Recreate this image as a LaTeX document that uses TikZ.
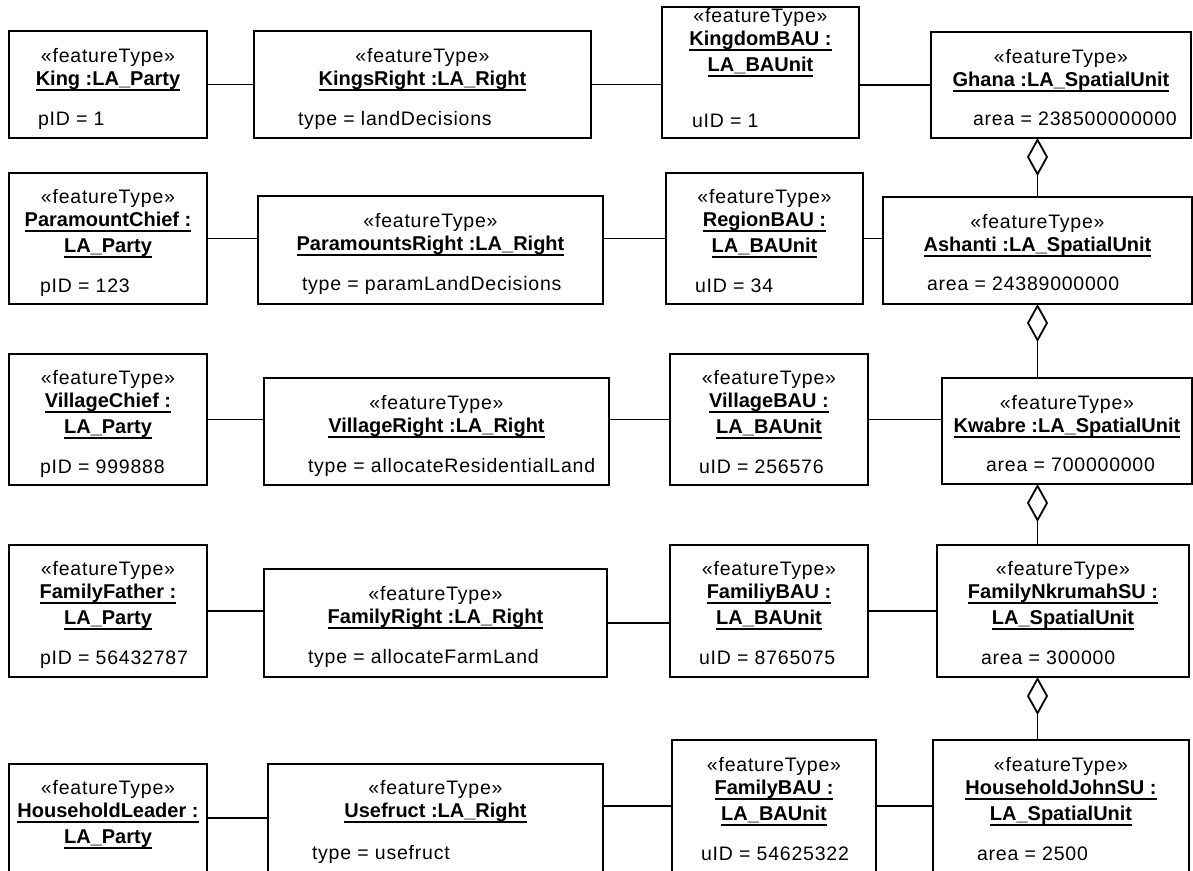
\documentclass[tikz,border=0pt]{standalone}
\usepackage{fontspec}
\setmainfont{Liberation Sans}
\newfontfamily\spacedsans[LetterSpace=4]{Liberation Sans}
\usetikzlibrary{arrows.meta}

% bold, underlined instance name
\newcommand\objname[1]{\setbox0\hbox{\normalfont\bfseries\fontsize{20}{23}\selectfont #1}%
  \rlap{\rule[-5.5pt]{\wd0}{2pt}}\box0}

\begin{document}
\begin{tikzpicture}[
  x = 1pt, y = -1pt,
  every node/.style = {inner sep=0pt, outer sep=0pt},
  obj/.style = {draw, line width=2pt, anchor=north west},
  hdr/.style = {anchor=north, align=center, font=\spacedsans\fontsize{19.5}{23}\selectfont},
  attr/.style = {anchor=base west, font=\spacedsans\fontsize{19.5}{23}\selectfont},
  link/.style = {draw, line width=1.8pt},
  agg/.style = {link, -{Diamond[open, length=38pt, width=21pt]}},
]
\useasboundingbox (0,0) rectangle (1193,870);
\clip (0,0) rectangle (1193,870);

% row 1
\node[obj, minimum width=198, minimum height=107] (king) at (9,31) {};
\node[hdr] (kingH) at ([yshift=-17]king.north) {«featureType»\\\objname{King :LA\_Party}};
\node[attr] (kingA) at ([xshift=29, yshift=-94]king.north west) {pID = 1};

\node[obj, minimum width=337, minimum height=107] (kingsright) at (254,31) {};
\node[hdr] (kingsrightH) at ([yshift=-17]kingsright.north) {«featureType»\\\objname{KingsRight :LA\_Right}};
\node[attr] (kingsrightA) at ([xshift=44, yshift=-94]kingsright.north west) {type = landDecisions};

\node[obj, minimum width=197, minimum height=131] (kingdom) at (662,7) {};
\node[hdr] (kingdomH) at ([yshift=-1]kingdom.north) {«featureType»\\\objname{KingdomBAU :}\\[3pt]\objname{LA\_BAUnit}};
\node[attr] (kingdomA) at ([xshift=30, yshift=-120]kingdom.north west) {uID = 1};

\node[obj, minimum width=260, minimum height=106] (ghana) at (931,32) {};
\node[hdr] (ghanaH) at ([yshift=-17]ghana.north) {«featureType»\\\objname{Ghana :LA\_SpatialUnit}};
\node[attr] (ghanaA) at ([xshift=42, yshift=-93]ghana.north west) {area = 238500000000};

% row 2
\node[obj, minimum width=198, minimum height=131] (pchief) at (9,173) {};
\node[hdr] (pchiefH) at ([yshift=-16]pchief.north) {«featureType»\\\objname{ParamountChief :}\\[3pt]\objname{LA\_Party}};
\node[attr] (pchiefA) at ([xshift=31, yshift=-119]pchief.north west) {pID = 123};

\node[obj, minimum width=345, minimum height=108] (pright) at (258,196) {};
\node[hdr] (prightH) at ([yshift=-17]pright.north) {«featureType»\\\objname{ParamountsRight :LA\_Right}};
\node[attr] (prightA) at ([xshift=44, yshift=-94]pright.north west) {type = paramLandDecisions};

\node[obj, minimum width=197, minimum height=131] (regionbau) at (666,173) {};
\node[hdr] (regionbauH) at ([yshift=-16]regionbau.north) {«featureType»\\\objname{RegionBAU :}\\[3pt]\objname{LA\_BAUnit}};
\node[attr] (regionbauA) at ([xshift=29, yshift=-119]regionbau.north west) {uID = 34};

\node[obj, minimum width=309, minimum height=107] (ashanti) at (883,197) {};
\node[hdr] (ashantiH) at ([yshift=-17]ashanti.north) {«featureType»\\\objname{Ashanti :LA\_SpatialUnit}};
\node[attr] (ashantiA) at ([xshift=44, yshift=-93]ashanti.north west) {area = 24389000000};

% row 3
\node[obj, minimum width=198, minimum height=131] (vchief) at (9,354) {};
\node[hdr] (vchiefH) at ([yshift=-16]vchief.north) {«featureType»\\\objname{VillageChief :}\\[3pt]\objname{LA\_Party}};
\node[attr] (vchiefA) at ([xshift=31, yshift=-119]vchief.north west) {pID = 999888};

\node[obj, minimum width=345, minimum height=107] (vright) at (264,378) {};
\node[hdr] (vrightH) at ([yshift=-17]vright.north) {«featureType»\\\objname{VillageRight :LA\_Right}};
\node[attr] (vrightA) at ([xshift=44, yshift=-94]vright.north west) {type = allocateResidentialLand};

\node[obj, minimum width=198, minimum height=131] (vbau) at (670,354) {};
\node[hdr] (vbauH) at ([yshift=-16]vbau.north) {«featureType»\\\objname{VillageBAU :}\\[3pt]\objname{LA\_BAUnit}};
\node[attr] (vbauA) at ([xshift=29, yshift=-119]vbau.north west) {uID = 256576};

\node[obj, minimum width=250, minimum height=106] (kwabre) at (942,378) {};
\node[hdr] (kwabreH) at ([yshift=-17]kwabre.north) {«featureType»\\\objname{Kwabre :LA\_SpatialUnit}};
\node[attr] (kwabreA) at ([xshift=44, yshift=-93]kwabre.north west) {area = 700000000};

% row 4
\node[obj, minimum width=198, minimum height=132] (ffather) at (9,545) {};
\node[hdr] (ffatherH) at ([yshift=-16]ffather.north) {«featureType»\\\objname{FamilyFather :}\\[3pt]\objname{LA\_Party}};
\node[attr] (ffatherA) at ([xshift=31, yshift=-119]ffather.north west) {pID = 56432787};

\node[obj, minimum width=343, minimum height=108] (fright) at (264,569) {};
\node[hdr] (frightH) at ([yshift=-17]fright.north) {«featureType»\\\objname{FamilyRight :LA\_Right}};
\node[attr] (frightA) at ([xshift=44, yshift=-94]fright.north west) {type = allocateFarmLand};

\node[obj, minimum width=198, minimum height=132] (fbau) at (670,545) {};
\node[hdr] (fbauH) at ([yshift=-16]fbau.north) {«featureType»\\\objname{FamiliyBAU :}\\[3pt]\objname{LA\_BAUnit}};
\node[attr] (fbauA) at ([xshift=29, yshift=-119]fbau.north west) {uID = 8765075};

\node[obj, minimum width=252, minimum height=132] (nkrumah) at (937,545) {};
\node[hdr] (nkrumahH) at ([yshift=-16]nkrumah.north) {«featureType»\\\objname{FamilyNkrumahSU :}\\[3pt]\objname{LA\_SpatialUnit}};
\node[attr] (nkrumahA) at ([xshift=44, yshift=-119]nkrumah.north west) {area = 300000};

% row 5
\node[obj, minimum width=198, minimum height=108] (hleader) at (9,764) {};
\node[hdr] (hleaderH) at ([yshift=-16]hleader.north) {«featureType»\\\objname{HouseholdLeader :}\\[3pt]\objname{LA\_Party}};

\node[obj, minimum width=335, minimum height=108] (usefruct) at (268,764) {};
\node[hdr] (usefructH) at ([yshift=-16]usefruct.north) {«featureType»\\\objname{Usefruct :LA\_Right}};
\node[attr] (usefructA) at ([xshift=44, yshift=-95]usefruct.north west) {type = usefruct};

\node[obj, minimum width=204, minimum height=132] (hbau) at (672,740) {};
\node[hdr] (hbauH) at ([yshift=-17]hbau.north) {«featureType»\\\objname{FamilyBAU :}\\[3pt]\objname{LA\_BAUnit}};
\node[attr] (hbauA) at ([xshift=29, yshift=-120]hbau.north west) {uID = 54625322};

\node[obj, minimum width=256, minimum height=132] (john) at (933,740) {};
\node[hdr] (johnH) at ([yshift=-17]john.north) {«featureType»\\\objname{HouseholdJohnSU :}\\[3pt]\objname{LA\_SpatialUnit}};
\node[attr] (johnA) at ([xshift=44, yshift=-120]john.north west) {area = 2500};

% associations
\foreach \a/\b in {king/kingsright, kingsright/kingdom, pchief/pright, regionbau/ashanti,
                   vchief/vright, vbau/kwabre, ffather/fright, fright/fbau, fbau/nkrumah,
                   hleader/usefruct, hbau/john}
  \draw[link] (\a.east) -- (\a.east -| \b.west);
\foreach \a/\b in {kingdom/ghana, pright/regionbau, vright/vbau, usefruct/hbau}
  \draw[link] (\a.east |- \b.west) -- (\b.west);

% aggregations
\foreach \c/\p in {ashanti/ghana, kwabre/ashanti, nkrumah/kwabre, john/nkrumah}
  \draw[agg] (\c.north -| ashanti.north) -- (\p.south -| ashanti.north);

\end{tikzpicture}
\end{document}
